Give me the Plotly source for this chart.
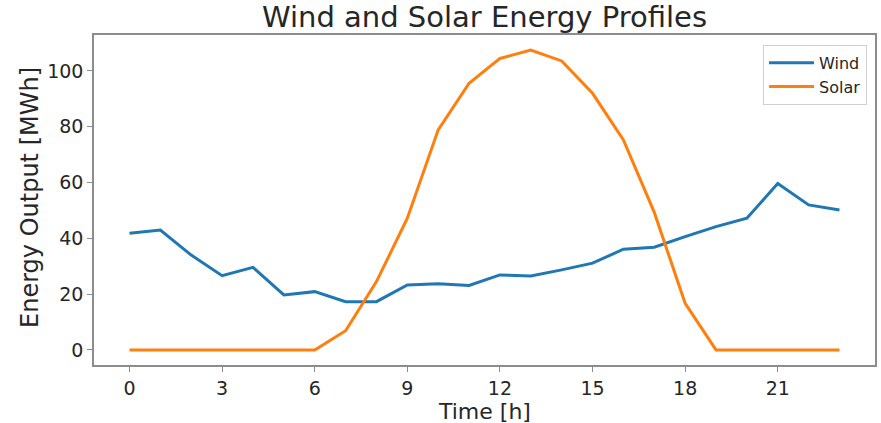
import plotly.graph_objects as go

hours = list(range(24))
wind = [41.8, 43.0, 34.0, 26.6, 29.6, 19.7, 20.9, 17.3, 17.3, 23.3, 23.7, 23.1,
        26.9, 26.5, 28.7, 31.1, 36.1, 36.8, 40.6, 44.2, 47.2, 59.7, 52.0, 50.2]
solar = [0, 0, 0, 0, 0, 0, 0, 6.9, 24.5, 47.2, 78.9, 95.6,
         104.5, 107.5, 103.6, 92.0, 75.3, 49.3, 16.7, 0, 0, 0, 0, 0]
xticks = [0, 3, 6, 9, 12, 15, 18, 21]
yticks = [0, 20, 40, 60, 80, 100]

FONT = "DejaVu Sans"
TXT = "#262626"

fig = go.Figure()
fig.add_trace(go.Scatter(x=hours, y=wind, mode="lines", name="Wind",
                         line=dict(color="#1f77b4", width=3)))
fig.add_trace(go.Scatter(x=hours, y=solar, mode="lines", name="Solar",
                         line=dict(color="#ff7f0e", width=3)))

axis_common = dict(showline=True, mirror=True, linecolor="#8c8c8c", linewidth=1.5,
                   ticks="outside", ticklen=5, tickcolor="#8c8c8c", tickwidth=1.2,
                   showgrid=False, zeroline=False, automargin=False,
                   tickfont=dict(family=FONT, size=19, color=TXT))

fig.update_layout(
    width=881, height=423,
    margin=dict(l=94, r=6, t=35, b=58),
    paper_bgcolor="white", plot_bgcolor="white",
    font=dict(family=FONT, color=TXT),
    title=dict(text="Wind and Solar Energy Profiles", x=0.5, xref="paper",
               xanchor="center", y=0.96, yanchor="middle",
               font=dict(family=FONT, size=29, color=TXT)),
    xaxis=dict(range=[-1.15, 24.15], tickvals=xticks, **axis_common),
    yaxis=dict(range=[-5.4, 112.9], tickvals=yticks, **axis_common),
    legend=dict(x=0.9898, y=0.97, xanchor="right", yanchor="top",
                bgcolor="rgba(255,255,255,0.9)", bordercolor="#d0d0d0", borderwidth=1,
                font=dict(family=FONT, size=16, color=TXT), tracegroupgap=2,
                itemwidth=45),
    showlegend=True,
    annotations=[
        dict(text="Time [h]", xref="paper", yref="paper", x=0.5, y=-0.142,
             xanchor="center", yanchor="middle", showarrow=False,
             font=dict(family=FONT, size=22, color=TXT)),
        dict(text="Energy Output [MWh]", xref="paper", yref="paper", x=-0.082, y=0.509,
             xanchor="center", yanchor="middle", textangle=-90, showarrow=False,
             font=dict(family=FONT, size=24, color=TXT)),
    ],
)

fig.write_html("out.html")
